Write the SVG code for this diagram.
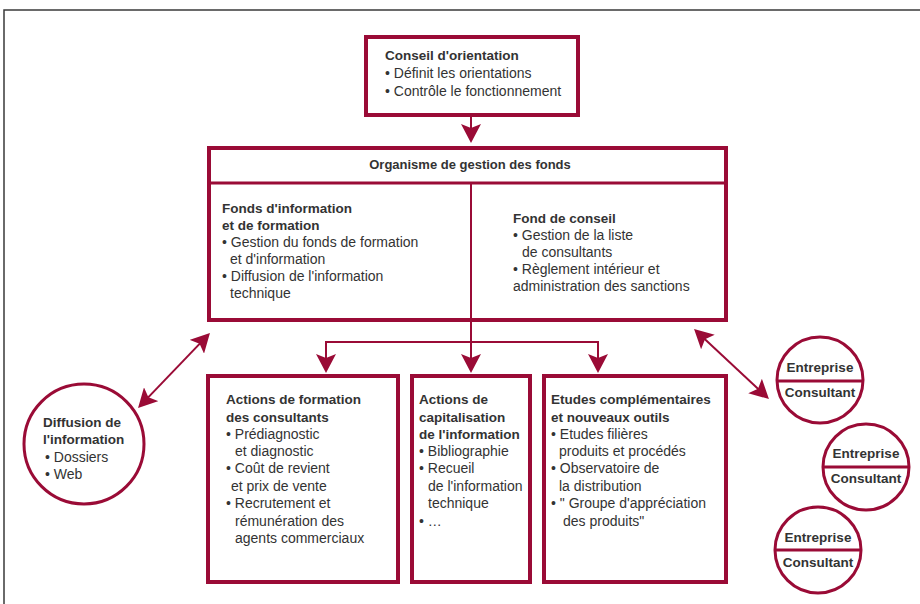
<svg xmlns="http://www.w3.org/2000/svg" width="920" height="604" viewBox="0 0 920 604">
<style>
  .box { fill: #ffffff; stroke: #9a0b36; stroke-width: 4; }
  .div { stroke: #9a0b36; fill: none; }
  .circ { fill: #ffffff; stroke: #9a0b36; stroke-width: 3; }
  .con { stroke: #9a0b36; stroke-width: 2; fill: none; }
  text { font-family: "Liberation Sans", Arial, sans-serif; font-size: 14px; fill: #333333; }
  .b { font-weight: bold; font-size: 13.5px; }
  .mid { text-anchor: middle; }
</style>
<defs>
  <marker id="ah" viewBox="0 0 19 20" refX="14" refY="10" markerWidth="19" markerHeight="20" markerUnits="userSpaceOnUse" orient="auto-start-reverse">
    <path d="M0,0 L19,10 L0,20 L4,10 Z" fill="#9a0b36"/>
  </marker>
</defs>
<rect x="0" y="0" width="920" height="604" fill="#ffffff"/>
<path d="M4,604 V10 H920" fill="none" stroke="#3a3a3a" stroke-width="1.5"/>

<g id="connectors">
  <line class="con" x1="471" y1="117" x2="471" y2="138" marker-end="url(#ah)"/>
  <line class="con" x1="471" y1="322" x2="471" y2="368" marker-end="url(#ah)"/>
  <polyline class="con" points="326,368 326,342 598,342 598,368" marker-start="url(#ah)" marker-end="url(#ah)"/>
  <line class="con" x1="141.5" y1="404.4" x2="206.5" y2="336.6" marker-start="url(#ah)" marker-end="url(#ah)"/>
  <line class="con" x1="697.7" y1="332.4" x2="765.3" y2="395.6" marker-start="url(#ah)" marker-end="url(#ah)"/>
</g>

<g id="conseil-orientation">
  <rect class="box" x="366" y="37" width="212" height="78"/>
  <text class="b" x="385" y="60">Conseil d'orientation</text>
  <text x="385" y="78">• Définit les orientations</text>
  <text x="385" y="96">• Contrôle le fonctionnement</text>
</g>

<g id="organisme">
  <rect class="box" x="209" y="148" width="517" height="172"/>
  <line class="div" stroke-width="3" x1="209" y1="183" x2="726" y2="183"/>
  <line class="div" stroke-width="2" x1="471" y1="183" x2="471" y2="320"/>
  <text class="b mid" x="470" y="169" style="font-size:13px">Organisme de gestion des fonds</text>
  <text class="b" x="222" y="213">Fonds d'information</text>
  <text class="b" x="222" y="230">et de formation</text>
  <text x="222" y="247">• Gestion du fonds de formation</text>
  <text x="230" y="264">et d'information</text>
  <text x="222" y="281">• Diffusion de l'information</text>
  <text x="230" y="298">technique</text>
  <text class="b" x="513" y="223">Fond de conseil</text>
  <text x="513" y="240">• Gestion de la liste</text>
  <text x="522" y="257">de consultants</text>
  <text x="513" y="274">• Règlement intérieur et</text>
  <text x="513" y="291">administration des sanctions</text>
</g>

<g id="actions-formation">
  <rect class="box" x="208" y="376" width="190" height="206"/>
  <text class="b" x="226" y="404">Actions de formation</text>
  <text class="b" x="226" y="422">des consultants</text>
  <text x="226" y="439">• Prédiagnostic</text>
  <text x="235" y="456">et diagnostic</text>
  <text x="226" y="473">• Coût de revient</text>
  <text x="231" y="491">et prix de vente</text>
  <text x="226" y="508">• Recrutement et</text>
  <text x="235" y="526">rémunération des</text>
  <text x="235" y="543">agents commerciaux</text>
</g>

<g id="actions-capitalisation">
  <rect class="box" x="412" y="376" width="118" height="206"/>
  <text class="b" x="419" y="404">Actions de</text>
  <text class="b" x="419" y="422">capitalisation</text>
  <text class="b" x="419" y="439">de l'information</text>
  <text x="419" y="456">• Bibliographie</text>
  <text x="419" y="473">• Recueil</text>
  <text x="428" y="491">de l'information</text>
  <text x="428" y="508">technique</text>
  <text x="419" y="526">• …</text>
</g>

<g id="etudes">
  <rect class="box" x="544" y="376" width="182" height="206"/>
  <text class="b" x="551" y="404">Etudes complémentaires</text>
  <text class="b" x="551" y="422">et nouveaux outils</text>
  <text x="551" y="439">• Etudes filières</text>
  <text x="559" y="456">produits et procédés</text>
  <text x="551" y="473">• Observatoire de</text>
  <text x="559" y="491">la distribution</text>
  <text x="551" y="508">• " Groupe d'appréciation</text>
  <text x="563" y="526">des produits"</text>
</g>

<g id="diffusion">
  <circle class="circ" cx="84" cy="444" r="60"/>
  <text class="b" x="43" y="427">Diffusion de</text>
  <text class="b" x="43" y="444">l'information</text>
  <text x="45" y="462">• Dossiers</text>
  <text x="45" y="479">• Web</text>
</g>

<g id="entreprise-1">
  <circle class="circ" cx="820" cy="380" r="43"/>
  <line class="div" stroke-width="3" x1="777" y1="381" x2="863" y2="381"/>
  <text class="b mid" x="820" y="372">Entreprise</text>
  <text class="b mid" x="820" y="397">Consultant</text>
</g>

<g id="entreprise-2">
  <circle class="circ" cx="866" cy="467" r="43"/>
  <line class="div" stroke-width="3" x1="823" y1="467" x2="909" y2="467"/>
  <text class="b mid" x="866" y="458">Entreprise</text>
  <text class="b mid" x="866" y="483">Consultant</text>
</g>

<g id="entreprise-3">
  <circle class="circ" cx="818" cy="550" r="43"/>
  <line class="div" stroke-width="3" x1="775" y1="550" x2="861" y2="550"/>
  <text class="b mid" x="818" y="542">Entreprise</text>
  <text class="b mid" x="818" y="567">Consultant</text>
</g>
</svg>
